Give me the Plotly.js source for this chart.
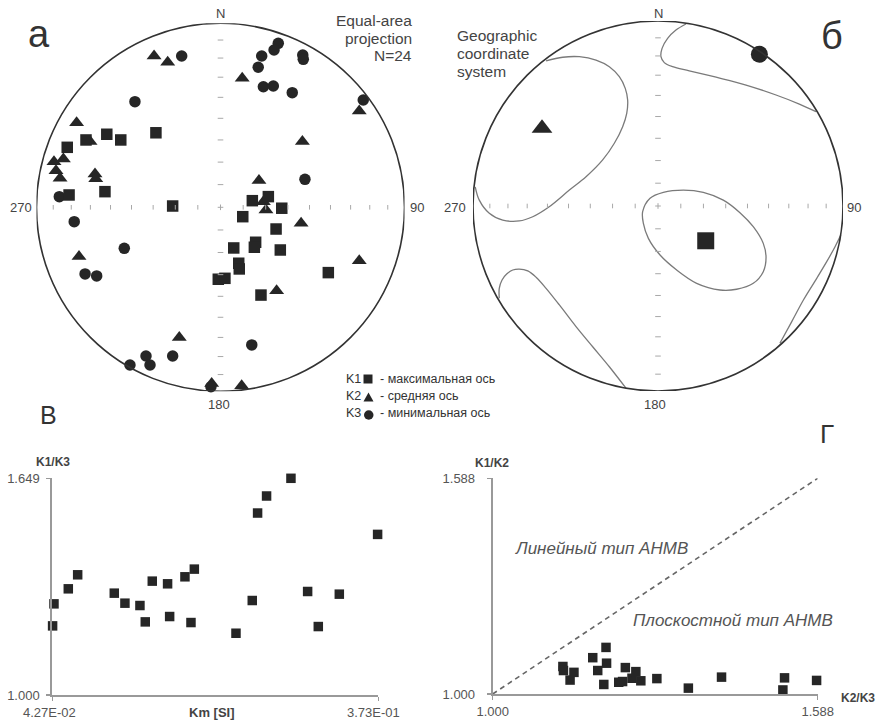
<!DOCTYPE html>
<html><head><meta charset="utf-8">
<script src="https://cdn.plot.ly/plotly-3.0.1.min.js"></script>
<style>html,body{margin:0;padding:0;background:#fff}#chart{width:876px;height:723px}</style>
</head><body><div id="chart"></div>
<script>
// ---- Panel а : equal-area projected positions (east, north), unit = primitive radius
const aK1E = [-0.351,-0.618,-0.542,-0.731,-0.833,-0.628,-0.823,-0.260,0.173,0.260,0.333,0.121,0.302,0.191,0.184,0.072,0.325,0.099,0.102,-0.012,0.024,0.586,0.220];
const aK1N = [0.405,0.397,0.366,0.366,0.326,0.085,0.067,0.007,0.036,0.058,-0.005,-0.051,-0.118,-0.190,-0.217,-0.221,-0.232,-0.304,-0.335,-0.391,-0.386,-0.355,-0.477];
const aK2E = [-0.361,-0.287,0.118,0.754,-0.782,0.445,-0.709,-0.854,-0.905,-0.894,-0.872,-0.682,-0.678,0.209,0.233,0.247,0.438,-0.769,0.754,0.305,-0.224,-0.048,0.115];
const aK2N = [0.822,0.788,0.701,0.523,0.460,0.357,0.357,0.263,0.248,0.199,0.158,0.181,0.155,0.145,0.030,-0.015,-0.087,-0.268,-0.290,-0.453,-0.707,-0.957,-0.970];
const aK3E = [-0.211,0.224,0.314,0.291,0.447,0.450,0.205,0.233,0.287,0.390,0.776,-0.465,0.459,-0.876,-0.795,-0.523,-0.736,-0.673,0.170,-0.405,-0.260,-0.383,-0.492,-0.052];
const aK3N = [0.822,0.822,0.891,0.855,0.828,0.804,0.761,0.655,0.659,0.623,0.583,0.574,0.152,0.058,-0.078,-0.223,-0.362,-0.373,-0.748,-0.808,-0.808,-0.857,-0.857,-0.975];

// ---- Panel б : mean axes and confidence regions (east, north)
const bK1 = [0.258,-0.188], bK2 = [-0.627,0.420], bK3 = [0.548,0.820];
const confK1E = [-0.083,-0.043,0.029,0.137,0.245,0.353,0.443,0.515,0.569,0.584,0.569,0.515,0.425,0.335,0.209,0.101,0.011,-0.052,-0.079,-0.083];
const confK1N = [-0.031,0.042,0.074,0.086,0.074,0.032,-0.036,-0.112,-0.202,-0.277,-0.355,-0.418,-0.450,-0.454,-0.418,-0.346,-0.265,-0.175,-0.094,-0.031];
const confK2E = [-0.605,-0.515,-0.425,-0.335,-0.263,-0.209,-0.177,-0.164,-0.169,-0.191,-0.236,-0.299,-0.389,-0.479,-0.588,-0.677,-0.750,-0.839,-0.912,-0.966,-0.988];
const confK2N = [0.784,0.804,0.807,0.789,0.753,0.699,0.636,0.573,0.501,0.429,0.339,0.249,0.158,0.086,-0.004,-0.058,-0.081,-0.076,-0.039,0.032,0.104];
const confK3aE = [0.151,0.097,0.052,0.022,0.016,0.034,0.079,0.169,0.314,0.476,0.638,0.764,0.854];
const confK3aN = [0.984,0.951,0.906,0.852,0.807,0.775,0.753,0.731,0.696,0.654,0.600,0.551,0.510];
const confK3bE = [-0.858,-0.858,-0.843,-0.818,-0.785,-0.750,-0.704,-0.659,-0.605,-0.533,-0.443,-0.353,-0.263,-0.173];
const confK3bN = [-0.499,-0.445,-0.400,-0.368,-0.346,-0.341,-0.351,-0.385,-0.445,-0.535,-0.652,-0.761,-0.869,-0.985];
const confK3cE = [0.988,0.957,0.912,0.858,0.786,0.723,0.659];
const confK3cN = [-0.157,-0.220,-0.301,-0.391,-0.508,-0.625,-0.742];

// grid tick dips (degrees) on the stereonet axes
const gridDips = [80,70,60,50,40,30,20,10];

// ---- Panel в
const km   = [0.0430,0.0444,0.0589,0.0684,0.1055,0.1163,0.1315,0.1369,0.1440,0.1595,0.1616,0.1771,0.1866,0.1832,0.2288,0.2453,0.2507,0.2598,0.2845,0.3014,0.3122,0.3335,0.3723];
const k1k3 = [1.207,1.273,1.318,1.360,1.305,1.275,1.268,1.219,1.341,1.333,1.235,1.354,1.377,1.217,1.185,1.283,1.545,1.596,1.649,1.310,1.205,1.302,1.481];
const vXTicks = [0.0427,0.373], vXText = ['4.27E-02','3.73E-01'];
const vYTicks = [1.000,1.649], vYText = ['1.000','1.649'];

// ---- Panel г
const k2k3 = [1.127,1.128,1.147,1.140,1.181,1.205,1.206,1.190,1.201,1.228,1.235,1.240,1.252,1.259,1.268,1.297,1.354,1.414,1.528,1.525,1.586];
const k1k2 = [1.075,1.064,1.059,1.038,1.099,1.127,1.084,1.064,1.026,1.032,1.034,1.072,1.043,1.061,1.036,1.042,1.016,1.046,1.044,1.011,1.037];
const gTicks = [1.000,1.588], gText = ['1.000','1.588'];
const divLine = [1.000,1.588];

// legend entries
const legKeys = ['K1', 'K2', 'K3'];
const legText = ['- максимальная ось', '- средняя ось', '- минимальная ось'];

const W = 876, H = 723;
const FONT = 'Liberation Sans, Arial, sans-serif';
const INK = '#262626';
const px = x => x / W, py = y => 1 - y / H;

const mk = (sym, size) => ({symbol: sym, size: size, color: INK, line: {width: 0}});
const traces = [
  {x: aK2E, y: aK2N, type: 'scatter', mode: 'markers', marker: mk('triangle-up', 13), xaxis: 'x', yaxis: 'y', cliponaxis: false},
  {x: aK3E, y: aK3N, type: 'scatter', mode: 'markers', marker: mk('circle', 11.5), xaxis: 'x', yaxis: 'y', cliponaxis: false},
  {x: aK1E, y: aK1N, type: 'scatter', mode: 'markers', marker: mk('square', 11.5), xaxis: 'x', yaxis: 'y', cliponaxis: false},
];
const curveStyle = {color: '#7a7a7a', width: 1.3, shape: 'spline', smoothing: 1};
[[confK1E, confK1N], [confK2E, confK2N], [confK3aE, confK3aN], [confK3bE, confK3bN], [confK3cE, confK3cN]].forEach(c => {
  traces.push({x: c[0], y: c[1], type: 'scatter', mode: 'lines', line: curveStyle, xaxis: 'x2', yaxis: 'y2', cliponaxis: false});
});
traces.push({x: [bK1[0]], y: [bK1[1]], type: 'scatter', mode: 'markers', marker: mk('square', 17), xaxis: 'x2', yaxis: 'y2', cliponaxis: false});
traces.push({x: [bK2[0]], y: [bK2[1]], type: 'scatter', mode: 'markers', marker: mk('triangle-up', 18), xaxis: 'x2', yaxis: 'y2', cliponaxis: false});
traces.push({x: [bK3[0]], y: [bK3[1]], type: 'scatter', mode: 'markers', marker: mk('circle', 17), xaxis: 'x2', yaxis: 'y2', cliponaxis: false});
traces.push({x: km, y: k1k3, type: 'scatter', mode: 'markers', marker: mk('square', 9.5), xaxis: 'x3', yaxis: 'y3', cliponaxis: false});
traces.push({x: divLine, y: divLine, type: 'scatter', mode: 'lines', line: {color: '#666', width: 1.6, dash: '5px,4px'}, xaxis: 'x4', yaxis: 'y4', cliponaxis: false});
traces.push({x: k2k3, y: k1k2, type: 'scatter', mode: 'markers', marker: mk('square', 9.5), xaxis: 'x4', yaxis: 'y4', cliponaxis: false});

// stereonet geometry (pixels)
const nets = [{cx: 220.5, cy: 207.3, R: 184, xa: 'x', ya: 'y'}, {cx: 658, cy: 206, R: 185, xa: 'x2', ya: 'y2'}];
const hidden = (dom, anchor) => ({domain: dom, range: [-1, 1], visible: false, fixedrange: true, anchor: anchor});

const shapes = [];
const radii = gridDips.map(d => Math.SQRT2 * Math.sin((90 - d) / 2 * Math.PI / 180));
nets.forEach(n => {
  shapes.push({type: 'circle', xref: n.xa, yref: n.ya, x0: -1, x1: 1, y0: -1, y1: 1, line: {color: '#333', width: 1.6}});
  const tl = 2.3 / n.R, th = 2.8 / n.R;
  const tick = (x0, y0, x1, y1) => shapes.push({type: 'line', xref: n.xa, yref: n.ya, x0, y0, x1, y1, line: {color: '#a8a8a8', width: 1}});
  radii.forEach(r => {
    tick(r, -tl, r, tl); tick(-r, -tl, -r, tl);
    tick(-th, r, th, r); tick(-th, -r, th, -r);
  });
  tick(-th, 0, th, 0); tick(0, -th, 0, th);
});
// legend key symbols
const P = (x, y) => px(x).toFixed(5) + ',' + py(y).toFixed(5);
shapes.push({type: 'rect', xref: 'paper', yref: 'paper', x0: px(363.5), x1: px(372.5), y0: py(383.5), y1: py(374.5), fillcolor: INK, line: {width: 0}});
shapes.push({type: 'path', xref: 'paper', yref: 'paper', path: 'M' + P(363.5, 401.5) + 'L' + P(373.5, 401.5) + 'L' + P(368.5, 392.5) + 'Z', fillcolor: INK, line: {width: 0}});
shapes.push({type: 'circle', xref: 'paper', yref: 'paper', x0: px(364), x1: px(373.5), y0: py(419.7), y1: py(410.3), fillcolor: INK, line: {width: 0}});

const ann = (text, x, y, o = {}) => Object.assign({text, x: px(x), y: py(y), xref: 'paper', yref: 'paper', showarrow: false,
  xanchor: 'center', yanchor: 'middle', font: {family: FONT, size: 13, color: '#444'}}, o);
const f = (size, color = '#444') => ({family: FONT, size: size, color: color});
const annotations = [
  ann('N', 220.5, 13), ann('270', 20.5, 207.3), ann('90', 417, 207.3), ann('180', 219, 404),
  ann('N', 658, 13), ann('270', 455, 207), ann('90', 853.5, 207), ann('180', 655, 404),
  ann('а', 39, 34, {font: f(38, '#333')}),
  ann('б', 832, 36, {font: f(38, '#333')}),
  ann('В', 48, 415, {font: f(25, '#333')}),
  ann('Г', 827, 434, {font: f(26, '#333')}),
  ann('Equal-area', 414, 20, {xanchor: 'right', font: f(15.5)}),
  ann('projection', 414, 38, {xanchor: 'right', font: f(15.5)}),
  ann('N=24', 414, 56, {xanchor: 'right', font: f(15.5)}),
  ann('Geographic', 455, 35, {xanchor: 'left', font: f(15.5)}),
  ann('coordinate', 455, 53.5, {xanchor: 'left', font: f(15.5)}),
  ann('system', 455, 72, {xanchor: 'left', font: f(15.5)}),
  ann('<b>K1/K3</b>', 53, 462, {font: f(12)}),
  ann('<b>Km [SI]</b>', 212, 712, {font: f(13)}),
  ann('<b>K1/K2</b>', 492, 463, {font: f(12)}),
  ann('<b>K2/K3</b>', 839, 698, {xanchor: 'left', font: f(12)}),
  ann('<i>Линейный тип АНМВ</i>', 601, 548, {font: f(17, '#555')}),
  ann('<i>Плоскостной тип АНМВ</i>', 733, 620, {font: f(17, '#555')}),
  // x tick labels of panel в placed exactly under the axis ends
  ann(vXText[0], 49, 712, {font: f(13, '#555')}),
  ann(vXText[1], 373, 712, {font: f(13, '#555')}),
];
legKeys.forEach((k, i) => {
  const y = 379 + 17 * i;
  annotations.push(ann(k, 343.5, y, {xanchor: 'left', font: f(12.5, '#333')}));
  annotations.push(ann(legText[i], 377.5, y, {xanchor: 'left', font: f(12.5, '#333')}));
});

const plotAxis = (dom, range, tv, tt, anchor, standoff, showLabels = true) => ({domain: dom, range: range, anchor: anchor, showline: true, linecolor: '#999', linewidth: 2,
  ticks: 'outside', ticklen: 4, tickwidth: 1.5, tickcolor: '#999', tickvals: tv, ticktext: tt, showgrid: false, zeroline: false, fixedrange: true,
  showticklabels: showLabels, ticklabelstandoff: standoff, tickfont: {family: FONT, size: 13, color: '#555'}});

const layout = {
  width: W, height: H, margin: {l: 0, r: 0, t: 0, b: 0}, paper_bgcolor: '#fff', plot_bgcolor: 'rgba(0,0,0,0)', showlegend: false,
  xaxis: hidden([px(220.5 - 184), px(220.5 + 184)], 'y'),
  yaxis: hidden([py(207.3 + 184), py(207.3 - 184)], 'x'),
  xaxis2: hidden([px(658 - 185), px(658 + 185)], 'y2'),
  yaxis2: hidden([py(206 + 185), py(206 - 185)], 'x2'),
  xaxis3: plotAxis([px(52.3), px(378.3)], [0.0427, 0.373], vXTicks, vXText, 'y3', 0, false),
  yaxis3: plotAxis([py(695), py(478.3)], [1.000, 1.649], vYTicks, vYText, 'x3', 4),
  xaxis4: plotAxis([px(492.7), px(817.7)], [1.000, 1.588], gTicks, gText, 'y4', 0),
  yaxis4: plotAxis([py(694), py(478.3)], [1.000, 1.588], gTicks, gText, 'x4', 9),
  shapes: shapes, annotations: annotations
};
Plotly.newPlot('chart', traces, layout, {staticPlot: true, displayModeBar: false});
</script></body></html>
